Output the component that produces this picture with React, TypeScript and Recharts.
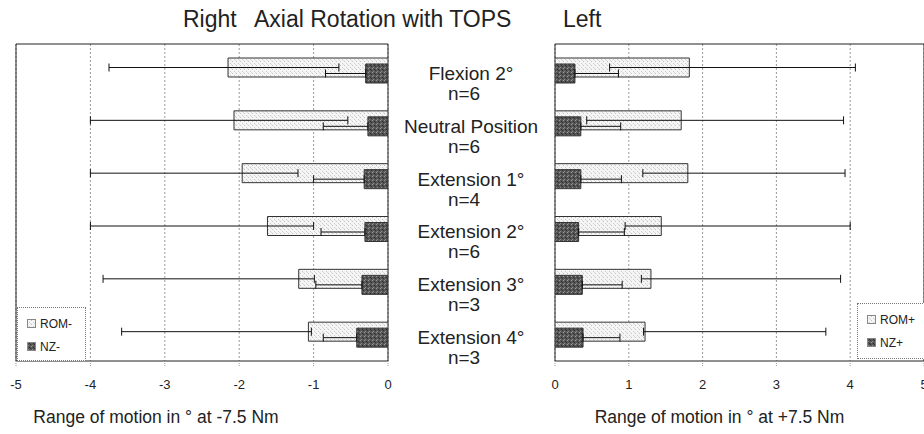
import {
  Bar,
  BarChart,
  CartesianGrid,
  ErrorBar,
  Label,
  Legend,
  ReferenceArea,
  XAxis,
  YAxis,
} from 'recharts'

const positions = [
  'Flexion 2°',
  'Neutral Position',
  'Extension 1°',
  'Extension 2°',
  'Extension 3°',
  'Extension 4°',
]
const sampleSizes = [6, 6, 4, 6, 3, 3]

// right rotation (-7.5 Nm), errors as [lower, upper]
const romMinus = [-2.15, -2.07, -1.96, -1.62, -1.2, -1.07]
const romMinusErr = [
  [1.6, 1.49],
  [1.93, 1.53],
  [2.04, 0.75],
  [2.38, 0.62],
  [2.63, 0.21],
  [2.51, 0.04],
]
const nzMinus = [-0.3, -0.27, -0.32, -0.31, -0.35, -0.42]
const nzMinusErr = [0.54, 0.6, 0.68, 0.59, 0.62, 0.45]

// left rotation (+7.5 Nm)
const romPlus = [1.82, 1.71, 1.8, 1.44, 1.3, 1.22]
const romPlusErr = [
  [1.08, 2.25],
  [1.28, 2.2],
  [0.61, 2.13],
  [0.49, 2.56],
  [0.13, 2.57],
  [0.02, 2.45],
]
const nzPlus = [0.27, 0.35, 0.35, 0.32, 0.37, 0.38]
const nzPlusErr = [0.59, 0.54, 0.55, 0.62, 0.54, 0.5]

const leftTicks = [-5, -4, -3, -2, -1, 0]
const rightTicks = [0, 1, 2, 3, 4, 5]

const FONT = '"Liberation Sans", Arial, sans-serif'
const INK = '#222'

const leftData = positions.map((p, i) => ({
  position: p,
  rom: romMinus[i],
  romErr: romMinusErr[i],
  nz: nzMinus[i],
  nzErr: [nzMinusErr[i], 0],
}))

const rightData = positions.map((p, i) => ({
  position: p,
  rom: romPlus[i],
  romErr: romPlusErr[i],
  nz: nzPlus[i],
  nzErr: [0, nzPlusErr[i]],
}))

function Patterns({ suffix }: { suffix: string }) {
  return (
    <defs>
      <pattern id={`rom${suffix}`} width="4" height="4" patternUnits="userSpaceOnUse">
        <rect width="4" height="4" fill="#f5f5f5" />
        <rect x="0" y="1" width="1" height="1" fill="#c2c2c2" />
        <rect x="2" y="3" width="1" height="1" fill="#cccccc" />
        <rect x="3" y="0" width="1" height="1" fill="#dadada" />
      </pattern>
      <pattern id={`nz${suffix}`} width="4" height="4" patternUnits="userSpaceOnUse">
        <rect width="4" height="4" fill="#575757" />
        <rect x="0" y="0" width="1" height="1" fill="#999" />
        <rect x="2" y="1" width="1" height="1" fill="#2a2a2a" />
        <rect x="1" y="3" width="1" height="1" fill="#888" />
        <rect x="3" y="2" width="1" height="1" fill="#333" />
      </pattern>
    </defs>
  )
}

function PositionTick(props: any) {
  const { y, payload } = props
  const i = positions.indexOf(payload.value)
  return (
    <g fontFamily={FONT} fontSize={19} fill={INK}>
      <text x={471} y={y + 9.5} textAnchor="middle">
        {payload.value}
      </text>
      <text x={464} y={y + 29.5} textAnchor="middle">
        n={sampleSizes[i]}
      </text>
    </g>
  )
}

function PanelLegend({ labels, suffix }: { labels: string[]; suffix: string }) {
  return (
    <div
      style={{
        border: '1px dotted #777',
        background: '#fff',
        boxSizing: 'border-box',
        height: '100%',
        padding: '4px 0 0 9px',
        fontFamily: FONT,
        fontSize: 12,
        color: INK,
      }}
    >
      {labels.map((l, i) => (
        <div key={l} style={{ height: 23, display: 'flex', alignItems: 'center' }}>
          <svg width={9} height={9} style={{ marginRight: 4 }}>
            <rect
              x={0.5}
              y={0.5}
              width={8}
              height={8}
              fill={`url(#${i === 0 ? 'rom' : 'nz'}${suffix})`}
              stroke="#888"
            />
          </svg>
          {l}
        </div>
      ))}
    </div>
  )
}

function axisTitle(text: string, shift: number) {
  return ({ viewBox }: any) => (
    <text
      x={viewBox.x + viewBox.width / 2 + shift}
      y={viewBox.y + viewBox.height - 11}
      textAnchor="middle"
      fontFamily={FONT}
      fontSize={17.5}
      fill={INK}
    >
      {text}
    </text>
  )
}

export default function App() {
  return (
    <div
      style={{
        position: 'absolute',
        left: 0,
        top: 0,
        width: 924,
        height: 434,
        overflow: 'hidden',
        background: '#fff',
        fontFamily: FONT,
      }}
    >
      <div style={{ position: 'absolute', top: 8, left: 0, fontSize: 23, lineHeight: '23px', color: INK }}>
        <span style={{ position: 'absolute', left: 183, whiteSpace: 'nowrap' }}>Right</span>
        <span style={{ position: 'absolute', left: 254, whiteSpace: 'nowrap' }}>
          Axial Rotation with TOPS
        </span>
        <span style={{ position: 'absolute', left: 563, whiteSpace: 'nowrap' }}>Left</span>
      </div>

      <div style={{ position: 'absolute', left: 0, top: 0 }}>
        <BarChart
          width={555}
          height={434}
          data={leftData}
          layout="vertical"
          margin={{ top: 44, right: 0, bottom: 0, left: 16 }}
          barSize={19}
          barGap={-13}
        >
          <Patterns suffix="L" />
          <CartesianGrid horizontal={false} stroke="#999" strokeDasharray="2 2" />
          <XAxis
            type="number"
            domain={[-5, 0]}
            ticks={leftTicks}
            interval={0}
            allowDataOverflow
            axisLine={false}
            tickLine={{ stroke: '#999', strokeDasharray: '1 1' }}
            tickSize={5}
            tickMargin={14}
            tick={{ fontSize: 13, fill: INK, fontFamily: FONT }}
            height={73}
          >
            <Label content={axisTitle('Range of motion in ° at -7.5 Nm', -46)} />
          </XAxis>
          <YAxis
            type="category"
            dataKey="position"
            orientation="right"
            width={167}
            axisLine={false}
            tickLine={false}
            tick={<PositionTick />}
            interval={0}
          />
          <ReferenceArea x1={-5} x2={0} fill="none" stroke="#222" strokeWidth={1} ifOverflow="visible" />
          <Bar dataKey="rom" name="ROM-" fill="url(#romL)" stroke="#333" strokeWidth={1} isAnimationActive={false}>
            <ErrorBar dataKey="romErr" direction="x" width={4} stroke="#111" strokeWidth={1} />
          </Bar>
          <Bar dataKey="nz" name="NZ-" fill="url(#nzL)" stroke="#333" strokeWidth={1} isAnimationActive={false}>
            <ErrorBar dataKey="nzErr" direction="x" width={4} stroke="#111" strokeWidth={1} />
          </Bar>
          <Legend
            layout="vertical"
            align="center"
            verticalAlign="middle"
            wrapperStyle={{ left: 17, top: 307, width: 69, height: 54 }}
            content={() => <PanelLegend labels={['ROM-', 'NZ-']} suffix="L" />}
          />
        </BarChart>
      </div>

      <div style={{ position: 'absolute', left: 543, top: 0 }}>
        <BarChart
          width={392}
          height={434}
          data={rightData}
          layout="vertical"
          margin={{ top: 44, right: 11, bottom: 0, left: 12 }}
          barSize={19}
          barGap={-13}
        >
          <Patterns suffix="R" />
          <CartesianGrid horizontal={false} stroke="#999" strokeDasharray="2 2" />
          <XAxis
            type="number"
            domain={[0, 5]}
            ticks={rightTicks}
            interval={0}
            allowDataOverflow
            axisLine={false}
            tickLine={{ stroke: '#999', strokeDasharray: '1 1' }}
            tickSize={5}
            tickMargin={14}
            tick={{ fontSize: 13, fill: INK, fontFamily: FONT }}
            height={73}
          >
            <Label content={axisTitle('Range of motion in ° at +7.5 Nm', -20)} />
          </XAxis>
          <YAxis type="category" dataKey="position" hide width={0} />
          <ReferenceArea x1={0} x2={5} fill="none" stroke="#222" strokeWidth={1} ifOverflow="visible" />
          <Bar dataKey="rom" name="ROM+" fill="url(#romR)" stroke="#333" strokeWidth={1} isAnimationActive={false}>
            <ErrorBar dataKey="romErr" direction="x" width={4} stroke="#111" strokeWidth={1} />
          </Bar>
          <Bar dataKey="nz" name="NZ+" fill="url(#nzR)" stroke="#333" strokeWidth={1} isAnimationActive={false}>
            <ErrorBar dataKey="nzErr" direction="x" width={4} stroke="#111" strokeWidth={1} />
          </Bar>
          <Legend
            layout="vertical"
            align="center"
            verticalAlign="middle"
            wrapperStyle={{ left: 314, top: 303, width: 72, height: 56 }}
            content={() => <PanelLegend labels={['ROM+', 'NZ+']} suffix="R" />}
          />
        </BarChart>
      </div>
    </div>
  )
}
